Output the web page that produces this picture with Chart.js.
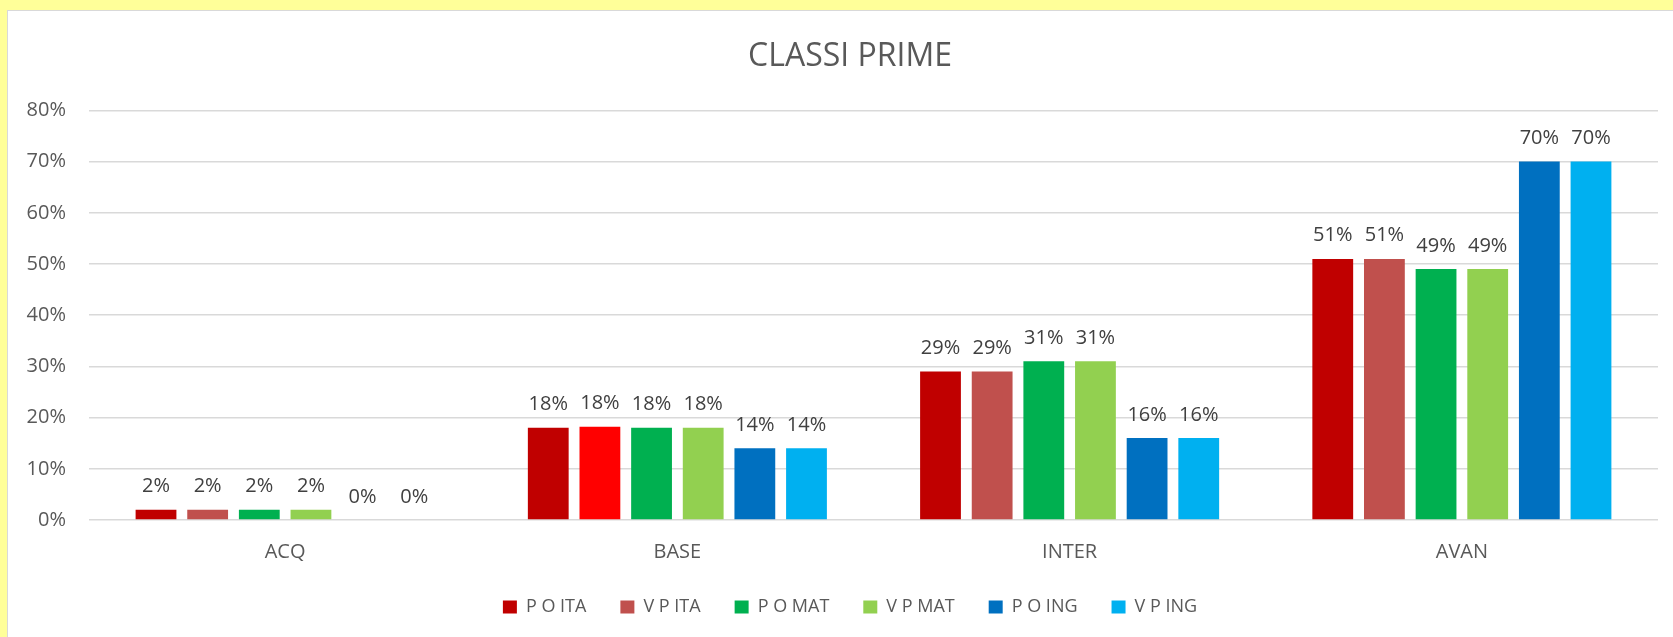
<!DOCTYPE html>
<html>
<head>
<meta charset="utf-8">
<script src="https://cdn.jsdelivr.net/npm/chart.js@4"></script>
<style>
  html, body { margin: 0; padding: 0; overflow: hidden; background: #ffff99; width: 1673px; height: 637px; }
  #box { position: absolute; left: 7px; top: 10px; width: 1700px; height: 660px; background: #fff; border: 1px solid #d9d9d9; }
  #chart { position: absolute; left: 0; top: 0; }
</style>
</head>
<body>
<div id="box"><canvas id="chart" width="1684" height="626"></canvas></div>
<script>
const categories = ['ACQ', 'BASE', 'INTER', 'AVAN'];
const seriesNames = ['P O ITA', 'V P ITA', 'P O MAT', 'V P MAT', 'P O ING', 'V P ING'];
const seriesColors = ['#C00000', '#C0504D', '#00B050', '#92D050', '#0070C0', '#00B0F0'];

const poIta = [2, 18, 29, 51];
const vpIta = [2, 18.2, 29, 51];
const poMat = [2, 18, 31, 49];
const vpMat = [2, 18, 31, 49];
const poIng = [0, 14, 16, 70];
const vpIng = [0, 14, 16, 70];

const yTicks = [0, 10, 20, 30, 40, 50, 60, 70, 80];

const seriesValues = [poIta, vpIta, poMat, vpMat, poIng, vpIng];

// the BASE bar of V P ITA is coloured pure red in the original
const vpItaColors = ['#C0504D', '#FF0000', '#C0504D', '#C0504D'];

const datasets = seriesNames.map((name, i) => ({
    label: name,
    data: seriesValues[i],
    backgroundColor: i === 1 ? vpItaColors : seriesColors[i],
    borderWidth: 0
}));

const barLabels = {
    id: 'barLabels',
    afterDatasetsDraw(chart) {
        const ctx = chart.ctx;
        ctx.save();
        ctx.font = '20px "Open Sans"';
        ctx.fillStyle = '#404040';
        ctx.textAlign = 'center';
        ctx.textBaseline = 'alphabetic';
        chart.data.datasets.forEach((ds, i) => {
            chart.getDatasetMeta(i).data.forEach((bar, j) => {
                ctx.fillText(Math.round(ds.data[j]) + '%', bar.x, bar.y - 17.5);
            });
        });
        ctx.restore();
    }
};

new Chart(document.getElementById('chart'), {
    type: 'bar',
    data: { labels: categories, datasets: datasets },
    plugins: [barLabels],
    options: {
        responsive: false,
        animation: false,
        layout: { padding: { left: 0, right: 0, top: 0, bottom: 11 } },
        datasets: { bar: { categoryPercentage: 0.79, barPercentage: 0.79 } },
        scales: {
            x: {
                grid: { display: false, drawTicks: false },
                border: { display: false },
                ticks: { color: '#595959', font: { family: 'Open Sans', size: 20 }, padding: 20 },
                afterFit: (s) => { s.height = 44; }
            },
            y: {
                min: 0,
                max: 80,
                afterBuildTicks: (s) => { s.ticks = yTicks.map(v => ({ value: v })); },
                grid: { color: '#d9d9d9', lineWidth: 1.5, drawTicks: false },
                border: { display: false },
                ticks: {
                    color: '#595959',
                    font: { family: 'Open Sans', size: 20 },
                    padding: 23,
                    callback: (v) => v + '%'
                },
                afterFit: (s) => { s.width = 81; }
            },
            // empty right margin so the title and legend stay centred on the whole frame
            yRight: {
                position: 'right',
                display: true,
                grid: { display: false, drawTicks: false },
                border: { display: false },
                ticks: { display: false },
                afterFit: (s) => { s.width = 34; }
            }
        },
        plugins: {
            title: {
                display: true,
                text: 'CLASSI PRIME',
                color: '#595959',
                font: { family: 'Open Sans', size: 32, weight: 'normal' },
                padding: { top: 27, bottom: 34 }
            },
            legend: {
                position: 'bottom',
                labels: {
                    color: '#595959',
                    font: { family: 'Open Sans', size: 18 },
                    boxWidth: 14,
                    boxHeight: 13,
                    padding: 34,
                    generateLabels: (chart) => seriesNames.map((name, i) => ({
                        text: name,
                        fillStyle: seriesColors[i],
                        strokeStyle: seriesColors[i],
                        lineWidth: 0,
                        fontColor: '#595959',
                        datasetIndex: i
                    }))
                }
            },
            tooltip: { enabled: false }
        }
    }
});
</script>
</body>
</html>
